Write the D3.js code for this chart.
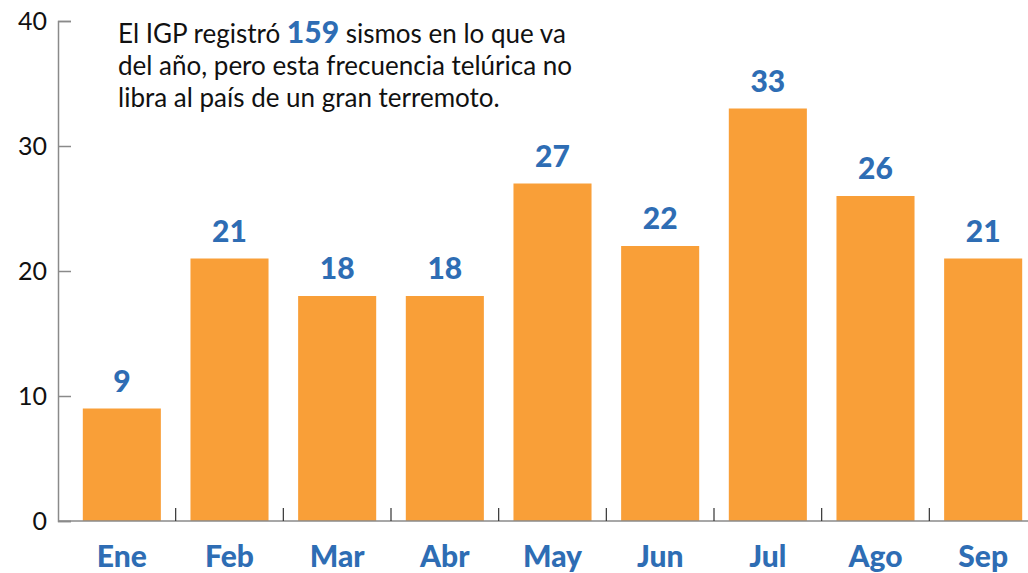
<!DOCTYPE html>
<html>
<head>
<meta charset="utf-8">
<script src="https://cdn.jsdelivr.net/npm/d3@7"></script>
<style>
  body { margin: 0; background: #fff; }
  svg { display: block; }
</style>
</head>
<body>
<svg id="chart" width="1028" height="573"></svg>
<script>
const months = ['Ene', 'Feb', 'Mar', 'Abr', 'May', 'Jun', 'Jul', 'Ago', 'Sep']
const sismos = [9, 21, 18, 18, 27, 22, 33, 26, 21]
const yTicks = [0, 10, 20, 30, 40]
const totalSismos = 159

const orange = '#f99f38'
const blue = '#2e6db4'
const axisGray = '#8a8a8a'

const svg = d3.select('#chart')

const x = d3.scaleBand()
    .domain(months)
    .range([68, 1037])
    .paddingInner(0.275)
    .paddingOuter(0.1375)

const y = d3.scaleLinear()
    .domain([0, 40])
    .range([521, 21])

// bars
svg.selectAll('.bar')
    .data(sismos)
    .join('rect')
    .attr('class', 'bar')
    .attr('x', (d, i) => x(months[i]))
    .attr('y', d => y(d))
    .attr('width', x.bandwidth())
    .attr('height', d => y(0) - y(d))
    .attr('fill', orange)

// value labels
svg.selectAll('.val')
    .data(sismos)
    .join('text')
    .attr('class', 'val')
    .attr('x', (d, i) => x(months[i]) + x.bandwidth() / 2)
    .attr('y', d => y(d) - 17)
    .attr('text-anchor', 'middle')
    .attr('font-family', 'Lato, sans-serif')
    .attr('font-weight', 900)
    .attr('font-size', 30)
    .attr('fill', blue)
    .text(d => d)

// y axis
const yAxis = svg.append('g')
    .attr('transform', 'translate(58,0)')
    .call(d3.axisRight(y).tickValues(yTicks).tickSize(13).tickFormat(d3.format('d')))
yAxis.select('.domain').attr('stroke', axisGray).attr('stroke-width', 1.5)
yAxis.selectAll('.tick line').attr('stroke', axisGray).attr('stroke-width', 1.5)
yAxis.selectAll('.tick text')
    .attr('x', -11)
    .attr('dy', '0.35em')
    .attr('text-anchor', 'end')
    .attr('font-family', 'Lato, sans-serif')
    .attr('font-size', 25)
    .attr('fill', '#111')

// x axis line + ticks between bands
svg.append('line')
    .attr('x1', 58).attr('x2', 1028)
    .attr('y1', y(0)).attr('y2', y(0))
    .attr('stroke', axisGray)
    .attr('stroke-width', 1.5)

const step = x.step()
svg.selectAll('.xtick')
    .data(months.slice(1))
    .join('line')
    .attr('class', 'xtick')
    .attr('x1', d => x(d) - step * x.paddingInner() / 2)
    .attr('x2', d => x(d) - step * x.paddingInner() / 2)
    .attr('y1', y(0))
    .attr('y2', y(0) - 13)
    .attr('stroke', '#333')
    .attr('stroke-width', 1.2)

// month labels
svg.selectAll('.month')
    .data(months)
    .join('text')
    .attr('class', 'month')
    .attr('x', d => x(d) + x.bandwidth() / 2)
    .attr('y', 567)
    .attr('text-anchor', 'middle')
    .attr('font-family', 'Lato, sans-serif')
    .attr('font-weight', 900)
    .attr('font-size', 30)
    .attr('fill', blue)
    .text(d => d)

// annotation
const note = svg.append('text')
    .attr('font-family', 'Lato, sans-serif')
    .attr('font-size', 26)
    .attr('fill', '#111')

const line1 = note.append('tspan').attr('x', 118).attr('y', 43)
line1.append('tspan').text('El IGP registró ')
line1.append('tspan')
    .attr('font-weight', 900)
    .attr('font-size', 30)
    .attr('fill', blue)
    .text(totalSismos)
line1.append('tspan').text(' sismos en lo que va')
note.append('tspan').attr('x', 118).attr('y', 75).text('del año, pero esta frecuencia telúrica no')
note.append('tspan').attr('x', 118).attr('y', 107).text('libra al país de un gran terremoto.')
</script>
</body>
</html>
